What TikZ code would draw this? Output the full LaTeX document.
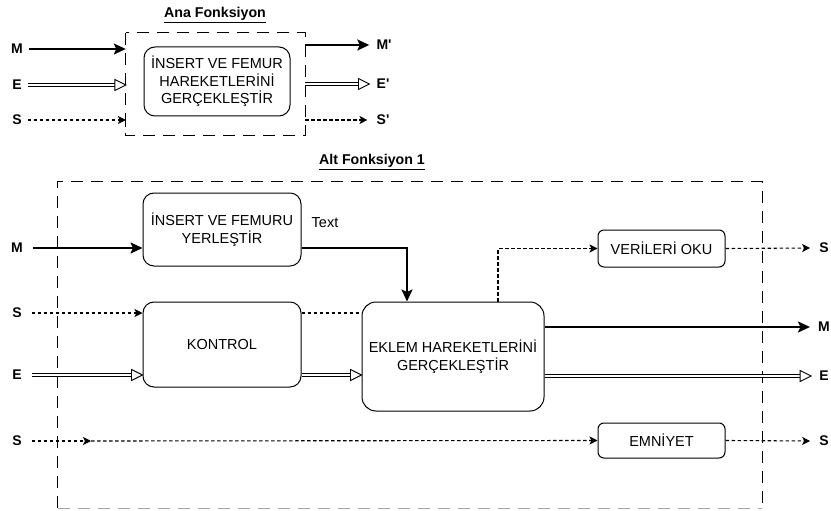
\documentclass[tikz,border=0pt]{standalone}
\usepackage{fontspec}
\setmainfont{Liberation Sans}
\usetikzlibrary{arrows.meta,decorations.markings}
\begin{document}
\begin{tikzpicture}[x=1pt,y=-1pt,
  box/.style={draw, line width=1pt, rounded corners=11pt, align=center, inner sep=0pt,
    font=\fontsize{14.5}{17.5}\selectfont},
  lbl/.style={font=\bfseries\fontsize{14}{16}\selectfont, inner sep=0pt},
  ttl/.style={font=\bfseries\fontsize{14.2}{16}\selectfont, inner sep=0pt},
  bdash/.style={line width=1.1pt, dash pattern=on 12pt off 8pt},
  thickarr/.style={line width=2pt, -{Stealth[length=12pt,width=11pt,inset=2.5pt]}},
  dotline/.style={line width=1.1pt, dash pattern=on 3.5pt off 2.5pt},
  dotarr/.style={dotline, -{Stealth[length=8pt,width=8pt,inset=2pt]}},
  hollow/.style={double, double distance=2.4pt, line width=0.9pt, shorten >=6pt,
    decoration={markings, mark=at position 1 with {
      \draw[line width=0.9pt, fill=white, line join=miter]
        (0pt,0pt) -- (-11pt,5.5pt) -- (-11pt,-5.5pt) -- cycle;}},
    postaction={decorate}},
]
\useasboundingbox (0,0) rectangle (831,511);

% ---------- Ana Fonksiyon ----------
\node[ttl] (t1) at (215,15) {\underline{Ana Fonksiyon}};
\node[minimum width=179pt, minimum height=102pt, inner sep=0pt] (abox) at (215.5,84) {};
\draw[bdash] (abox.north west) rectangle (abox.south east);
\node[box, minimum width=146pt, minimum height=69pt] (ainner) at (217,81.5)
  {İNSERT VE FEMUR\\HAREKETLERİNİ\\GERÇEKLEŞTİR};

\node[lbl] (M0) at (17,49) {M};
\node[lbl] (E0) at (17,85) {E};
\node[lbl] (S0) at (17,120) {S};
\node[lbl] (M1) at (384,45) {M\textquotesingle};
\node[lbl] (E1) at (383,84) {E\textquotesingle};
\node[lbl] (S1) at (383,120) {S\textquotesingle};

\draw[thickarr] ([xshift=6pt]M0.east) -- (M0 -| abox.west);
\draw[hollow] ([xshift=6pt]E0.east) -- (E0 -| abox.west);
\draw[dotarr] ([xshift=6pt]S0.east) -- (S0 -| abox.west);
\draw[line width=1pt] ([yshift=-7pt]S0 -| abox.west) -- ([yshift=7pt]S0 -| abox.west);

\draw[thickarr] (M1 -| abox.east) -- ([xshift=-7pt]M1.west);
\draw[hollow] (E1 -| abox.east) -- ([xshift=-7pt]E1.west);
\draw[dotarr] (S1 -| abox.east) -- ([xshift=-9pt]S1.west);

% ---------- Alt Fonksiyon 1 ----------
\node[ttl] (t2) at (372,162) {\underline{Alt Fonksiyon 1}};
\node[minimum width=704pt, minimum height=326pt, inner sep=0pt] (obox) at (410,345) {};
\draw[bdash] (obox.south west) -- (obox.north west) -- (obox.north east) -- (obox.south east);
\draw[bdash, gray!70] (obox.south west) -- (obox.south east);

\node[box, minimum width=158pt, minimum height=73pt] (ybox) at (222,229.5)
  {İNSERT VE FEMURU\\YERLEŞTİR};
\node[box, minimum width=158pt, minimum height=85pt] (kbox) at (222,344.5) {KONTROL};
\node[box, rounded corners=14pt, minimum width=182pt, minimum height=109pt] (ebox) at (453,356.5)
  {EKLEM HAREKETLERİNİ\\GERÇEKLEŞTİR};
\node[box, rounded corners=6pt, minimum width=127pt, minimum height=37pt] (vbox) at (661.5,248.5) {VERİLERİ OKU};
\node[box, rounded corners=6pt, minimum width=127pt, minimum height=35pt] (nbox) at (661.5,440.5) {EMNİYET};
\node[font=\fontsize{14.5}{16}\selectfont, inner sep=0pt] (txt) at (325,223) {Text};

\node[lbl] (M2) at (17,248) {M};
\node[lbl] (S2) at (17,313) {S};
\node[lbl] (E2) at (17,375) {E};
\node[lbl] (S3) at (17,441) {S};
\node[lbl] (So) at (824,248) {S};
\node[lbl] (Mo) at (824,327) {M};
\node[lbl] (Eo) at (824,376) {E};
\node[lbl] (So2) at (824,441) {S};

\coordinate (yt) at (407,0);
\coordinate (vt) at (498,0);
\coordinate (mid) at (91,441);

\draw[thickarr] ([xshift=10pt]M2.east) -- (M2 -| ybox.west);
\draw[dotarr] ([xshift=10pt]S2.east) -- (S2 -| kbox.west);
\draw[hollow] ([xshift=10pt]E2.east) -- (E2 -| kbox.west);

\draw[thickarr] (M2 -| ybox.east) -| (yt |- ebox.north);
\draw[dotline] (S2 -| kbox.east) -- (S2 -| ebox.west);
\draw[hollow] (E2 -| kbox.east) -- (E2 -| ebox.west);

\draw[dotarr] (vt |- ebox.north) |- (vbox.west);
\draw[dotarr] (vbox.east) -- ([xshift=-9pt]So.west);
\draw[thickarr] (Mo -| ebox.east) -- ([xshift=-8pt]Mo.west);
\draw[hollow] (Eo -| ebox.east) -- ([xshift=-8pt]Eo.west);

\draw[dotarr] ([xshift=10pt]S3.east) -- (mid);
\draw[dotarr] (mid) -- (nbox.west);
\draw[dotarr] (nbox.east) -- ([xshift=-9pt]So2.west);
\end{tikzpicture}
\end{document}
